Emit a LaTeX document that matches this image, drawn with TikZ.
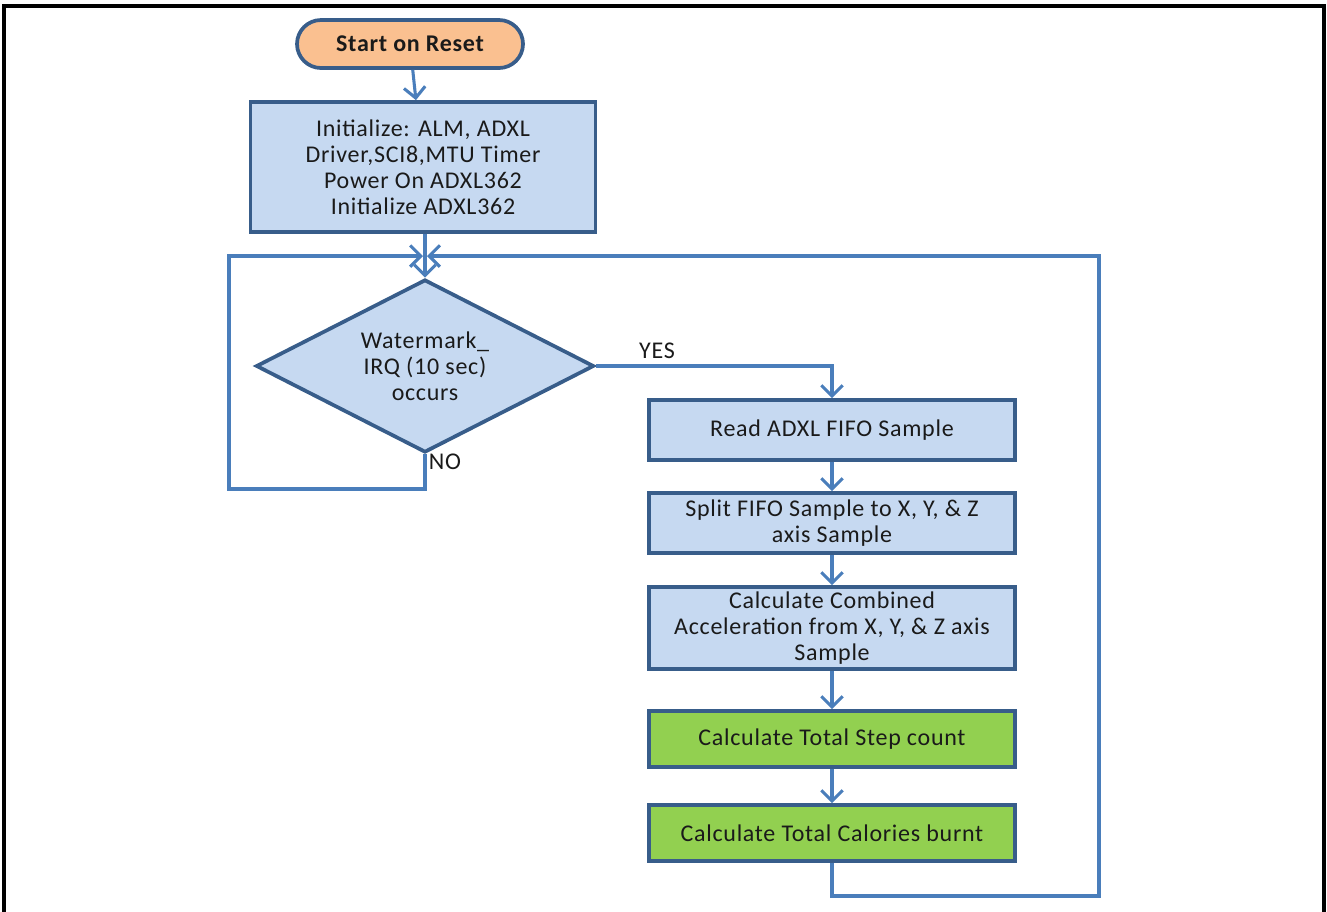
\documentclass[tikz,border=0pt]{standalone}
\usepackage{fontspec}
\setmainfont[LetterSpace=3]{Carlito}
\usetikzlibrary{arrows.meta,shapes.geometric,shapes.misc}
\definecolor{boxblue}{HTML}{C6D9F1}
\definecolor{boxedge}{HTML}{385D8A}
\definecolor{boxgreen}{HTML}{92D050}
\definecolor{boxorange}{HTML}{FAC090}
\definecolor{conn}{HTML}{4A7EBB}
\definecolor{txt}{HTML}{1A1A1A}
\tikzset{
  basefont/.style={font=\fontsize{18}{19.5}\selectfont},
  procbox/.style={draw=boxedge, line width=2.8pt, fill=boxblue, minimum width=274.5pt, inner sep=0pt, align=center, text=txt, basefont},
  greenbox/.style={procbox, fill=boxgreen},
  termbox/.style={rounded rectangle, draw=boxedge, line width=2.8pt, fill=boxorange, minimum width=169.5pt, minimum height=36pt, inner sep=0pt, text=txt, font=\fontsize{18}{19.5}\selectfont\bfseries},
  decbox/.style={diamond, draw=boxedge, line width=2.8pt, fill=boxblue, minimum width=253.5pt, minimum height=129.75pt, aspect=1.95, inner sep=0pt},
  flow/.style={draw=conn, line width=2.3pt, -{Straight Barb[length=8pt,width=16pt,line width=2.3pt]}},
  lbl/.style={text=txt, basefont, inner sep=0pt}
}
\begin{document}
\begin{tikzpicture}[x=0.75pt,y=-0.75pt]
\useasboundingbox (0,0) rectangle (1327,911);
% frame
\draw[black, line width=2.6pt] (4,912) -- (4,6) -- (1324,6) -- (1324,912);

\node[termbox] (start) at (410,44) {Start on Reset};
\node[procbox, minimum width=258.75pt, minimum height=97.5pt] (init) at (423,167) {Initialize: ALM, ADXL\\Driver,SCI8,MTU Timer\\Power On ADXL362\\Initialize ADXL362};
\node[decbox] (dec) at (425,366) {};
\node[lbl, align=center] (dectext) at (425,366) {Watermark\_\\IRQ (10 sec)\\occurs};
\node[procbox, minimum height=45pt] (read) at (832,430) {Read ADXL FIFO Sample};
\node[procbox, minimum height=45pt] (split) at (832,523) {Split FIFO Sample to X, Y, \& Z\\axis Sample};
\node[procbox, minimum height=61.5pt] (comb) at (832,628) {Calculate Combined\\Acceleration from X, Y, \& Z axis\\Sample};
\node[greenbox, minimum height=42pt] (step) at (832,739) {Calculate Total Step count};
\node[greenbox, minimum height=42pt] (cal) at (832,833) {Calculate Total Calories burnt};

\coordinate (join) at (425,256);
\coordinate (nl1) at (425,489);
\coordinate (nl2) at (229,489);
\coordinate (nl3) at (229,256);
\coordinate (nlend) at (423,256);
\coordinate (yr) at (832,366);
\coordinate (cr1) at (832,896);
\coordinate (cr2) at (1099,896);
\coordinate (cr3) at (1099,256);
\coordinate (crend) at (427,256);

\draw[flow] (start) -- (init);
\draw[flow] (init.south -| join) -- (dec.north);
\draw[flow] (dec.south) -- (nl1) -- (nl2) -- (nl3) -- (nlend);
\draw[flow] (cal.south) -- (cr1) -- (cr2) -- (cr3) -- (crend);
\draw[flow] (dec.east) -- (yr) -- (read.north);
\draw[flow] (read) -- (split);
\draw[flow] (split) -- (comb);
\draw[flow] (comb) -- (step);
\draw[flow] (step) -- (cal);

\node[lbl, anchor=center] (yes) at (657,351) {YES};
\node[lbl, anchor=center] (no) at (445,462) {NO};
\end{tikzpicture}
\end{document}
